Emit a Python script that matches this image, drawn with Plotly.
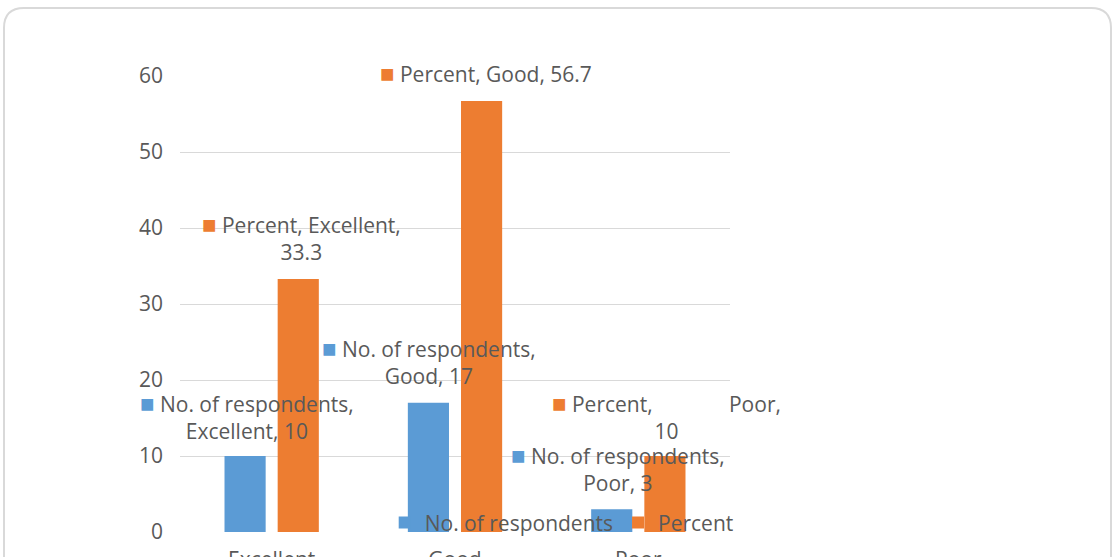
import plotly.graph_objects as go

categories = ["Excellent", "Good", "Poor"]
respondents = [10, 17, 3]
percent = [33.3, 56.7, 10]
series_names = ["No. of respondents", "Percent"]
colors = ["#5B9BD5", "#ED7D31"]
y_ticks = [0, 10, 20, 30, 40, 50, 60]

W, H = 1113, 557
L, R, T, B = 180, 730, 76, 532
FONT = "Open Sans"
TXT = "#595959"

fig = go.Figure()
fig.add_trace(go.Bar(x=categories, y=respondents, name=series_names[0],
                     marker=dict(color=colors[0], line=dict(width=0))))
fig.add_trace(go.Bar(x=categories, y=percent, name=series_names[1],
                     marker=dict(color=colors[1], line=dict(width=0))))

def key(c):
    return f'<span style="color:{c};font-size:24px">■</span>'

# data labels (series, category, text, xshift, yshift)
labels = [
    (0, 0, key(colors[0]) + " No. of respondents,<br>Excellent, 10", -25, 41),
    (1, 0, key(colors[1]) + " Percent, Excellent,<br>33.3", 30, 42),
    (0, 1, key(colors[0]) + " No. of respondents,<br>Good, 17", -26, 42),
    (1, 1, key(colors[1]) + " Percent, Good, 56.7", 31, 29),
    (0, 2, key(colors[0]) + " No. of respondents,<br>Poor, 3", -20, 42),
    (1, 2, key(colors[1]) + " Percent,              Poor,<br>10", 28, 41),
]
vals = [respondents, percent]
for s, c, txt, xs, ys in labels:
    fig.add_annotation(x=categories[c], y=vals[s][c], text=txt, showarrow=False,
                       xshift=xs, yshift=ys, align="center",
                       font=dict(family=FONT, size=21, color=TXT))

# rounded chart border
def px_x(p):
    return (p - L) / (R - L)

def px_y(p):
    return (B - p) / (B - T)

x0, x1, y0, y1, r = 4, 1111, 8, 600, 20
path = (f"M {px_x(x0)},{px_y(y1)} L {px_x(x0)},{px_y(y0 + r)} "
        f"Q {px_x(x0)},{px_y(y0)} {px_x(x0 + r)},{px_y(y0)} "
        f"L {px_x(x1 - r)},{px_y(y0)} "
        f"Q {px_x(x1)},{px_y(y0)} {px_x(x1)},{px_y(y0 + r)} "
        f"L {px_x(x1)},{px_y(y1)}")
fig.add_shape(type="path", path=path, xref="paper", yref="paper",
              line=dict(color="#D9D9D9", width=2), layer="below")

fig.update_layout(
    template="none",
    width=W, height=H,
    margin=dict(l=L, r=W - R, t=T, b=H - B, pad=0, autoexpand=False),
    paper_bgcolor="white", plot_bgcolor="white",
    barmode="group", bargap=0.42, bargroupgap=0.226,
    font=dict(family=FONT, size=21, color=TXT),
    showlegend=True,
    legend=dict(orientation="h", x=0.694, xanchor="center", y=0.02, yanchor="middle",
                bgcolor="rgba(0,0,0,0)", font=dict(size=21, color=TXT),
                itemwidth=30),
)
fig.update_yaxes(range=[0, 60], tickvals=y_ticks, showgrid=True, gridcolor="#D9D9D9",
                 gridwidth=1, zeroline=False, showline=False, ticks="",
                 automargin=False,
                 tickfont=dict(size=21, color=TXT), ticklabelstandoff=16)
fig.update_xaxes(range=[-0.5, 2.5], showgrid=False, showline=False, ticks="",
                 automargin=False,
                 tickfont=dict(size=21, color=TXT), ticklabelstandoff=13)

fig.write_html("out.html")
